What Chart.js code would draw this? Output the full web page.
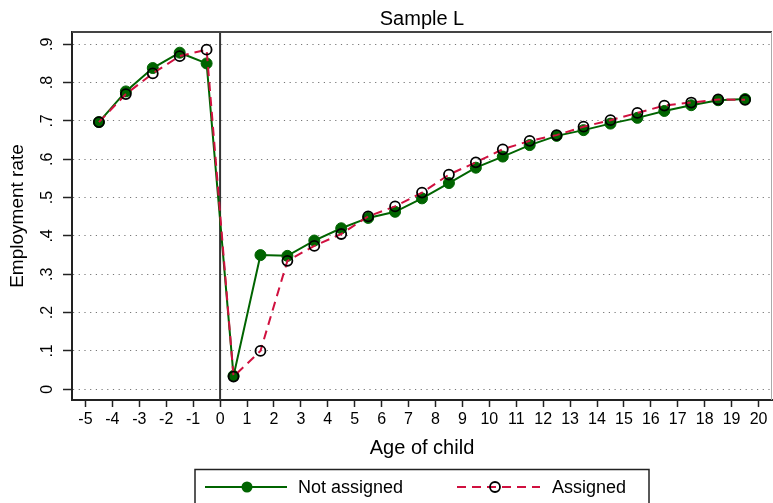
<!DOCTYPE html>
<html>
<head>
<meta charset="utf-8">
<script src="https://cdn.jsdelivr.net/npm/chart.js@4"></script>
<style>
  body { margin: 0; background: #fff; }
  #chart { display: block; }
</style>
</head>
<body>
<canvas id="chart" width="773" height="503"></canvas>
<script>
// age of child (half-year bins) and employment rates
var ages = [-4.5, -3.5, -2.5, -1.5, -0.5, 0.5, 1.5, 2.5, 3.5, 4.5, 5.5, 6.5, 7.5, 8.5, 9.5,
            10.5, 11.5, 12.5, 13.5, 14.5, 15.5, 16.5, 17.5, 18.5, 19.5];
var notAssigned = [0.697, 0.777, 0.838, 0.878, 0.850, 0.035, 0.350, 0.348, 0.388, 0.420,
                   0.447, 0.463, 0.498, 0.538, 0.578, 0.607, 0.637, 0.661, 0.676, 0.693,
                   0.708, 0.726, 0.741, 0.754, 0.757];
var assigned = [0.697, 0.770, 0.824, 0.869, 0.886, 0.033, 0.100, 0.335, 0.374, 0.405,
                0.451, 0.477, 0.513, 0.560, 0.592, 0.626, 0.648, 0.663, 0.685, 0.702,
                0.721, 0.740, 0.748, 0.756, 0.755];
var xTicks = [-5, -4, -3, -2, -1, 0, 1, 2, 3, 4, 5, 6, 7, 8, 9, 10, 11, 12, 13, 14, 15, 16, 17, 18, 19, 20];
var yTicks = [0, 0.1, 0.2, 0.3, 0.4, 0.5, 0.6, 0.7, 0.8, 0.9];
var yTickLabels = ["0", ".1", ".2", ".3", ".4", ".5", ".6", ".7", ".8", ".9"];

var FONT = "'Liberation Sans', Arial, Helvetica, sans-serif";
var GREEN = "#006400";
var RED = "#d0103f";

function pts(vals) {
  return ages.map(function (a, i) { return { x: a, y: vals[i] }; });
}

// titles, frame, zero line and the boxed legend, Stata style
var decor = {
  id: "decor",
  beforeDraw: function (chart) {
    var c = chart.ctx;
    c.save();
    c.fillStyle = "#fff";
    c.fillRect(0, 0, chart.width, chart.height);
    c.restore();
  },
  beforeDatasetsDraw: function (chart) {
    var c = chart.ctx, a = chart.chartArea;
    var x0 = chart.scales.x.getPixelForValue(0);
    c.save();
    c.strokeStyle = "#333";
    c.lineWidth = 2;
    c.beginPath();
    c.moveTo(x0, a.top);
    c.lineTo(x0, a.bottom);
    c.stroke();
    c.restore();
  },
  afterDraw: function (chart) {
    var c = chart.ctx, a = chart.chartArea;
    c.save();
    // top and right edges of the plot frame
    c.strokeStyle = "#444";
    c.lineWidth = 2;
    c.beginPath();
    c.moveTo(a.left, a.top);
    c.lineTo(a.right, a.top);
    c.stroke();
    c.strokeStyle = "#aaa";
    c.lineWidth = 1;
    c.beginPath();
    c.moveTo(a.right - 0.5, a.top);
    c.lineTo(a.right - 0.5, a.bottom);
    c.stroke();

    var cx = (a.left + a.right) / 2;
    c.fillStyle = "#000";
    c.textAlign = "center";
    c.textBaseline = "alphabetic";
    c.font = "20px " + FONT;
    c.fillText("Sample L", cx, 24.5);
    c.fillText("Age of child", cx, 454);

    c.save();
    c.translate(18, (a.top + a.bottom) / 2);
    c.rotate(-Math.PI / 2);
    c.font = "19px " + FONT;
    c.textBaseline = "middle";
    c.fillText("Employment rate", 0, 0);
    c.restore();

    // legend
    c.strokeStyle = "#222";
    c.lineWidth = 1.5;
    c.strokeRect(195, 469.5, 454, 40);
    var ly = 487;
    c.strokeStyle = GREEN;
    c.lineWidth = 2;
    c.beginPath();
    c.moveTo(205, ly);
    c.lineTo(287, ly);
    c.stroke();
    c.fillStyle = GREEN;
    c.beginPath();
    c.arc(247, ly, 5.5, 0, Math.PI * 2);
    c.fill();

    c.strokeStyle = RED;
    c.setLineDash([9, 6]);
    c.beginPath();
    c.moveTo(457, ly);
    c.lineTo(540, ly);
    c.stroke();
    c.setLineDash([]);
    c.strokeStyle = "#000";
    c.lineWidth = 1.8;
    c.beginPath();
    c.arc(495, ly, 5, 0, Math.PI * 2);
    c.stroke();

    c.fillStyle = "#000";
    c.textAlign = "left";
    c.textBaseline = "alphabetic";
    c.font = "18px " + FONT;
    c.fillText("Not assigned", 298, 493);
    c.fillText("Assigned", 552, 493);
    c.restore();
  }
};

var ctx = document.getElementById("chart");
var empChart = new Chart(ctx, {
  type: "line",
  data: {
    datasets: [
      {
        label: "Assigned",
        data: pts(assigned),
        order: 0,
        borderColor: RED,
        borderWidth: 2,
        borderDash: [9, 6],
        pointRadius: 5,
        pointBorderWidth: 1.8,
        pointBorderColor: "#000",
        pointBackgroundColor: "rgba(0,0,0,0)",
        tension: 0
      },
      {
        label: "Not assigned",
        data: pts(notAssigned),
        order: 1,
        borderColor: GREEN,
        borderWidth: 2,
        pointRadius: 5.5,
        pointBorderWidth: 1,
        pointBorderColor: GREEN,
        pointBackgroundColor: GREEN,
        tension: 0
      }
    ]
  },
  options: {
    responsive: false,
    animation: false,
    devicePixelRatio: 1,
    layout: { autoPadding: false, padding: { top: 32, right: 1, left: 0, bottom: 0 } },
    plugins: {
      legend: { display: false },
      title: { display: false },
      tooltip: { enabled: false }
    },
    scales: {
      x: {
        type: "linear",
        min: -5.5,
        max: 20.5,
        afterBuildTicks: function (s) {
          s.ticks = xTicks.map(function (v) { return { value: v }; });
        },
        afterFit: function (s) {
          s.height = 103;
          s.paddingLeft = 0;
          s.paddingRight = 0;
        },
        grid: {
          drawOnChartArea: false,
          tickLength: 7,
          tickColor: "#222",
          tickWidth: 1.5
        },
        border: { color: "#222", width: 2 },
        ticks: {
          color: "#000",
          padding: 3,
          maxRotation: 0,
          autoSkip: false,
          font: { family: FONT, size: 16 },
          callback: function (v) { return String(v); }
        }
      },
      y: {
        type: "linear",
        min: -0.028,
        max: 0.932,
        afterBuildTicks: function (s) {
          s.ticks = yTicks.map(function (v) { return { value: v }; });
        },
        afterFit: function (s) {
          s.width = 72;
          s.paddingTop = 0;
          s.paddingBottom = 0;
        },
        grid: {
          color: "#777",
          lineWidth: 1,
          tickLength: 9,
          tickColor: "#222",
          tickWidth: 1.5,
          tickBorderDash: []
        },
        border: { color: "#222", width: 2, dash: [1.2, 4.5] },
        ticks: {
          color: "#000",
          padding: 9,
          minRotation: 90,
          maxRotation: 90,
          crossAlign: "center",
          autoSkip: false,
          font: { family: FONT, size: 16 },
          callback: function (v, i) { return yTickLabels[i]; }
        }
      }
    }
  },
  plugins: [decor]
});
</script>
</body>
</html>
